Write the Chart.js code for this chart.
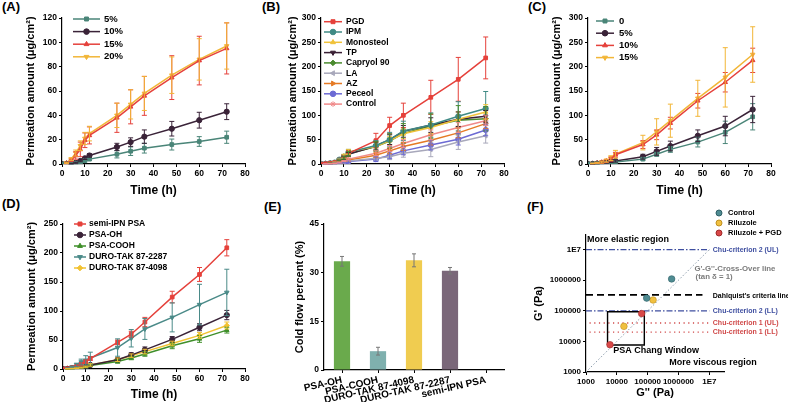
<!DOCTYPE html>
<html>
<head>
<meta charset="utf-8">
<style>
  body { margin: 0; background: #fff; width: 788px; height: 402px; position: relative; overflow: hidden; }
  canvas { position: absolute; }
  .tag { position: absolute; font: bold 13px "Liberation Sans", Arial, sans-serif; color: #000; }
</style>
</head>
<body>
<div class="tag" style="left:2px;top:-1px">(A)</div>
<div class="tag" style="left:262px;top:-1px">(B)</div>
<div class="tag" style="left:528px;top:-1px">(C)</div>
<div class="tag" style="left:2px;top:196px">(D)</div>
<div class="tag" style="left:264px;top:199px">(E)</div>
<div class="tag" style="left:527px;top:199px">(F)</div>

<canvas id="cA" width="262" height="200" style="left:0;top:0"></canvas>
<canvas id="cB" width="263" height="200" style="left:262px;top:0"></canvas>
<canvas id="cC" width="263" height="200" style="left:525px;top:0"></canvas>
<canvas id="cD" width="262" height="202" style="left:0;top:200px"></canvas>
<canvas id="cE" width="263" height="202" style="left:262px;top:200px"></canvas>
<canvas id="cF" width="263" height="202" style="left:525px;top:200px"></canvas>

<script src="https://cdn.jsdelivr.net/npm/chart.js"></script>

<script>
  // sampling times (h), shared by panels A-D
  const timeH = [0, 2, 4, 6, 8, 10, 12, 24, 30, 36, 48, 60, 72];

  // (A) drug loading
  const a5 = [0, 0, 0.2, 0.5, 1, 2.7, 4, 8, 10.5, 13, 16, 18.5, 22];
  const a5Err = [0, 0, 0.2, 0.3, 0.5, 0.8, 1.2, 3, 3.5, 4, 4.5, 4, 5];
  const a10 = [0, 0, 0.3, 1, 2.5, 4.7, 7, 14, 18, 22.5, 29, 36, 43];
  const a10Err = [0, 0, 0.2, 0.4, 0.6, 1, 1.5, 3, 3.5, 5.5, 6, 6.5, 6.5];
  const a15 = [0, 0.8, 3, 7, 12, 19.5, 23.5, 38, 47, 56, 71, 85, 95];
  const a15Err = [0, 0.5, 1, 3, 6, 6, 7, 12, 14, 16, 18, 20, 21];
  const a20 = [0, 1, 4, 9, 15, 21, 25, 40, 49, 58, 73, 86, 97];
  const a20Err = [0, 0.5, 1, 2.5, 4, 5, 6, 10, 12, 14, 15, 17, 19];

  // (B) enhancers
  const bPGD = [0, 0.5, 1.5, 3, 8, 15, 22, 48, 79, 100, 137, 174, 218];
  const bPGDErr = [0, 0.3, 0.5, 1, 2, 4, 6, 15, 17, 25, 35, 45, 43];
  const bIPM = [0, 0.5, 1.5, 3, 9, 15, 24, 38, 50, 68, 80, 98, 114];
  const bIPMErr = [0, 0.3, 0.5, 1, 2, 4, 6, 10, 15, 20, 25, 30, 35];
  const bMono = [0, 0.5, 1.5, 3, 8, 16, 25, 36, 48, 62, 75, 92, 107];
  const bMonoErr = [0, 0.3, 0.5, 1, 2, 4, 5, 8, 8, 10, 12, 15, 15];
  const bTP = [0, 0.4, 1, 2, 6, 12, 20, 37, 50, 67, 80, 92, 98];
  const bTPErr = [0, 0.3, 0.5, 1, 2, 3, 4, 8, 10, 12, 15, 15, 12];
  const bCapryol = [0, 0.4, 1, 2, 6, 13, 21, 36, 47, 63, 78, 90, 93];
  const bCapryolErr = [0, 0.3, 0.5, 1, 2, 3, 5, 10, 15, 20, 25, 30, 25];
  const bLA = [0, 0.2, 0.5, 1, 2, 4, 6, 12, 15, 22, 30, 45, 58];
  const bLAErr = [0, 0.1, 0.3, 0.5, 1, 1, 2, 4, 6, 8, 15, 15, 15];
  const bAZ = [0, 0.2, 0.6, 1.2, 3, 5, 8, 18, 27, 36, 49, 64, 83];
  const bAZErr = [0, 0.1, 0.3, 0.5, 1, 1, 2, 5, 6, 8, 10, 10, 10];
  const bPeceol = [0, 0.2, 0.5, 1, 2, 3, 5, 10, 18, 27, 39, 51, 70];
  const bPeceolErr = [0, 0.1, 0.3, 0.5, 1, 1, 2, 5, 7, 8, 10, 12, 12];
  const bControl = [0, 0.3, 0.7, 1.5, 3, 6, 10, 22, 32, 42, 60, 75, 89];
  const bControlErr = [0, 0.1, 0.3, 0.5, 1, 1, 2, 5, 6, 8, 10, 10, 10];

  // (C) enhancer content
  const c0 = [0, 0.2, 0.5, 1, 1.5, 2.5, 4, 10, 20, 30, 45, 65, 97];
  const c0Err = [0, 0.1, 0.2, 0.3, 0.5, 0.8, 1, 3, 4, 6, 10, 23, 27];
  const c5 = [0, 0.3, 0.8, 1.5, 2.5, 4, 6, 15, 26, 37, 58, 78, 112];
  const c5Err = [0, 0.2, 0.3, 0.5, 0.8, 1, 2, 5, 8, 10, 12, 20, 27];
  const c10 = [0, 1, 2, 3.5, 6, 10, 19, 40, 60, 84, 130, 168, 213];
  const c10Err = [0, 0.5, 1, 2, 3, 4, 5, 8, 10, 12, 15, 20, 25];
  const c15 = [0, 1.2, 2.5, 4, 7, 12, 20, 44, 66, 89, 135, 178, 225];
  const c15Err = [0, 0.5, 1, 2, 3, 5, 8, 15, 27, 34, 37, 61, 57];

  // (D) matrices
  const dSemi = [0, 0.5, 2, 4, 8, 12.5, 18, 46, 60, 81, 124, 163, 209];
  const dSemiErr = [0, 0.3, 0.5, 1, 2, 3, 3, 4, 5, 8, 10, 12, 14];
  const dOH = [0, 0.3, 0.8, 1.5, 2.5, 4, 7, 16, 24, 33, 51, 72, 93];
  const dOHErr = [0, 0.2, 0.3, 0.5, 0.8, 1, 2, 3, 4, 5, 5, 6, 8];
  const dCOOH = [0, 0.2, 0.5, 1, 2, 3, 6, 13, 19, 26, 40, 52, 67];
  const dCOOHErr = [0, 0.1, 0.2, 0.3, 0.5, 1, 1.5, 3, 3, 4, 5, 6, 5];
  const d2287 = [0, 1.5, 3.5, 7, 12, 15, 19, 37, 53, 69, 89, 111, 132];
  const d2287Err = [0, 0.5, 1, 3, 5, 8, 10, 15, 15, 18, 25, 35, 40];
  const d4098 = [0, 0.3, 0.8, 1.5, 2.5, 4, 7, 16, 23, 30, 44, 58, 75];
  const d4098Err = [0, 0.2, 0.3, 0.5, 0.8, 1, 2, 3, 3, 4, 4, 5, 6];

  // (E) cold flow
  const eLabels = ['PSA-OH', 'PSA-COOH', 'DURO-TAK 87-4098', 'DURO-TAK 87-2287', 'semi-IPN PSA'];
  const eCold = [33.5, 5.8, 33.8, 30.6, 0];
  const eColdErr = [1.5, 1.2, 2, 1, 0];

  // (F) viscoelastic window: G'' (x) and G' (y), Pa
  const fCtrlGpp = [6.0e5, 9.3e4];
  const fCtrlGp = [1.1e6, 2.6e5];
  const fRilGpp = [1.5e5, 1.7e4];
  const fRilGp = [2.25e5, 3.1e4];
  const fPgdGpp = [6.4e4, 6.0e3];
  const fPgdGp = [8.1e4, 7.8e3];
  const fCriteria = ['Chu-criterion 2 (UL)', "Dahlquist's criteria line", 'Chu-criterion 2 (LL)', 'Chu-criterion 1 (UL)', 'Chu-criterion 1 (LL)'];
  const fCriteriaGp = [1e7, 3.3e5, 1e5, 4e4, 2e4];
  const fChangGpp = [5000, 78000];
  const fChangGp = [7600, 93000];
  const fTickVals = [1e3, 1e4, 1e5, 1e6, 1e7];
  const fTickText = ['1000', '10000', '100000', '1000000', '1E7'];
</script>

<script>
  const FAM = '"Liberation Sans", Arial, sans-serif';
  Chart.defaults.font.family = FAM;
  Chart.defaults.color = '#000';

  const tickFont = { size: 8.5, weight: 'bold' };

  const errorBars = {
    id: 'errorBars',
    afterDatasetsDraw(chart) {
      const ctx = chart.ctx;
      chart.data.datasets.forEach((ds, i) => {
        if (!ds.errors) return;
        const meta = chart.getDatasetMeta(i);
        const ys = chart.scales[meta.yAxisID];
        ctx.save();
        ctx.strokeStyle = ds.errorColor || ds.borderColor;
        ctx.lineWidth = 1;
        meta.data.forEach((el, j) => {
          const e = ds.errors[j];
          if (!e) return;
          const d = ds.data[j];
          const v = typeof d === 'object' ? d.y : d;
          const top = ys.getPixelForValue(v + e);
          const bot = ys.getPixelForValue(Math.max(v - e, 0));
          const cap = ds.capWidth || 2.5;
          ctx.beginPath();
          ctx.moveTo(el.x, top); ctx.lineTo(el.x, bot);
          ctx.moveTo(el.x - cap, top); ctx.lineTo(el.x + cap, top);
          ctx.moveTo(el.x - cap, bot); ctx.lineTo(el.x + cap, bot);
          ctx.stroke();
        });
        ctx.restore();
      });
    }
  };

  const miniLegend = {
    id: 'miniLegend',
    afterDraw(chart, args, opts) {
      if (opts.x === undefined) return;
      const ctx = chart.ctx;
      ctx.save();
      ctx.font = 'bold ' + opts.size + 'px ' + FAM;
      ctx.textBaseline = 'middle';
      let row = 0;
      chart.data.datasets.forEach(ds => {
        if (ds.noLegend) return;
        const y = opts.y + row * opts.row;
        const len = opts.line || 0;
        ctx.strokeStyle = ds.borderColor;
        ctx.fillStyle = ds.backgroundColor;
        if (len) {
          ctx.lineWidth = 1.5;
          ctx.beginPath(); ctx.moveTo(opts.x, y); ctx.lineTo(opts.x + len, y); ctx.stroke();
        }
        ctx.lineWidth = 1;
        Chart.helpers.drawPoint(ctx, {
          pointStyle: ds.pointStyle, radius: opts.r || 2.8,
          rotation: ds.pointRotation || 0, borderWidth: 1
        }, opts.x + len / 2, y);
        ctx.fillStyle = '#000';
        ctx.fillText(ds.label, opts.x + len + opts.gap, y);
        row++;
      });
      ctx.restore();
    }
  };

  function series(label, vals, errs, color, style, rot) {
    return {
      label: label,
      data: timeH.map((t, i) => ({ x: t, y: vals[i] })),
      errors: errs,
      borderColor: color,
      backgroundColor: color,
      pointStyle: style,
      pointRotation: rot || 0,
      pointRadius: 2.6,
      pointBorderWidth: 1,
      borderWidth: 1.5
    };
  }

  function permChart(id, datasets, o) {
    return new Chart(document.getElementById(id), {
      type: 'line',
      data: { datasets: datasets },
      plugins: [errorBars, miniLegend],
      options: {
        responsive: false,
        animation: false,
        devicePixelRatio: 1,
        layout: { padding: { left: o.padL, top: o.padT, right: o.padR, bottom: 0 } },
        plugins: { legend: { display: false }, tooltip: { enabled: false }, miniLegend: o.legend },
        scales: {
          x: {
            type: 'linear', min: 0, max: 80,
            ticks: { stepSize: 10, font: tickFont, color: '#000', padding: 2 },
            grid: { drawOnChartArea: false, color: '#000', tickLength: 3, lineWidth: 1 },
            border: { color: '#000', width: 1.2 },
            title: { display: true, text: 'Time (h)', font: { size: 12, weight: 'bold' }, color: '#000', padding: { top: 0, bottom: o.xtPad } },
            afterFit: s => { s.height = o.xh; }
          },
          y: {
            min: 0, max: o.ymax,
            ticks: { stepSize: o.ystep, font: tickFont, color: '#000', padding: 2 },
            grid: { drawOnChartArea: false, color: '#000', tickLength: 3, lineWidth: 1 },
            border: { color: '#000', width: 1.2 },
            title: { display: true, text: 'Permeation amount (μg/cm²)', font: { size: 11, weight: 'bold' }, color: '#000', padding: { top: 4, bottom: 0 } },
            afterFit: s => { s.width = o.yw; }
          }
        }
      }
    });
  }

  // (A)
  permChart('cA', [
    series('5%', a5, a5Err, '#4a8578', 'rect'),
    series('10%', a10, a10Err, '#3a2338', 'circle'),
    series('15%', a15, a15Err, '#e5413b', 'triangle'),
    series('20%', a20, a20Err, '#f2b637', 'triangle', 180)
  ], { padL: 20, yw: 42, padT: 18, padR: 17, xh: 36, xtPad: 2, ymax: 120, ystep: 20,
       legend: { x: 73, y: 19, row: 12.6, line: 27, gap: 4, size: 9.5 } });

  // (B)
  permChart('cB', [
    series('PGD', bPGD, bPGDErr, '#e5403a', 'rect'),
    series('IPM', bIPM, bIPMErr, '#3f8a85', 'circle'),
    series('Monosteol', bMono, bMonoErr, '#f0c23a', 'triangle'),
    series('TP', bTP, bTPErr, '#3a2035', 'triangle', 180),
    series('Capryol 90', bCapryol, bCapryolErr, '#4b8b2f', 'rectRot'),
    series('LA', bLA, bLAErr, '#a8a8bb', 'triangle', 270),
    series('AZ', bAZ, bAZErr, '#e57a25', 'triangle', 90),
    series('Peceol', bPeceol, bPeceolErr, '#6c6ad4', 'circle'),
    series('Control', bControl, bControlErr, '#f08a8a', 'star')
  ], { padL: 20, yw: 39, padT: 18, padR: 21, xh: 36, xtPad: 2, ymax: 300, ystep: 50,
       legend: { x: 62, y: 21.7, row: 10.3, line: 18, gap: 4, size: 8.5 } });

  // (C)
  permChart('cC', [
    series('0', c0, c0Err, '#4a8578', 'rect'),
    series('5%', c5, c5Err, '#3a2338', 'circle'),
    series('10%', c10, c10Err, '#e5413b', 'triangle'),
    series('15%', c15, c15Err, '#f2b637', 'triangle', 180)
  ], { padL: 21, yw: 42, padT: 18, padR: 17, xh: 36, xtPad: 2, ymax: 300, ystep: 50,
       legend: { x: 71, y: 21, row: 12.2, line: 18, gap: 5, size: 9.5 } });

  // (D)
  permChart('cD', [
    series('semi-IPN PSA', dSemi, dSemiErr, '#e5413b', 'rect'),
    series('PSA-OH', dOH, dOHErr, '#3a2338', 'circle'),
    series('PSA-COOH', dCOOH, dCOOHErr, '#3f8f2a', 'triangle'),
    series('DURO-TAK 87-2287', d2287, d2287Err, '#4a8a88', 'triangle', 180),
    series('DURO-TAK 87-4098', d4098, d4098Err, '#f2c232', 'rectRot')
  ], { padL: 21, yw: 42, padT: 24, padR: 17, xh: 33, xtPad: 0, ymax: 250, ystep: 50,
       legend: { x: 74, y: 24, row: 11, line: 12, gap: 3, size: 8.5 } });

  // (E)
  new Chart(document.getElementById('cE'), {
    type: 'bar',
    data: {
      labels: eLabels,
      datasets: [{
        label: 'Cold flow', data: eCold, errors: eColdErr, errorColor: '#777', capWidth: 2,
        backgroundColor: ['#6aaa4c', '#7fb0ae', '#f0cc50', '#7a6779', '#999'],
        borderColor: '#777', borderWidth: 0, barPercentage: 0.45, categoryPercentage: 1
      }]
    },
    plugins: [errorBars],
    options: {
      responsive: false, animation: false, devicePixelRatio: 1,
      layout: { padding: { left: 27, top: 24, right: 21, bottom: 0 } },
      plugins: { legend: { display: false }, tooltip: { enabled: false } },
      scales: {
        x: {
          ticks: { font: { size: 10, weight: 'bold' }, color: '#000', minRotation: 13, maxRotation: 13, padding: 1, autoSkip: false },
          grid: { drawOnChartArea: false, offset: false, color: '#000', tickLength: 3 },
          border: { color: '#000', width: 1.2 },
          afterFit: s => { s.height = 32; }
        },
        y: {
          min: 0, max: 45,
          ticks: { stepSize: 15, font: tickFont, color: '#000', padding: 2 },
          grid: { drawOnChartArea: false, color: '#000', tickLength: 3 },
          border: { color: '#000', width: 1.2 },
          title: { display: true, text: 'Cold flow percent (%)', font: { size: 11, weight: 'bold' }, color: '#000', padding: { top: 4, bottom: 0 } },
          afterFit: s => { s.width = 35; }
        }
      }
    }
  });

  // (F)
  const toPts = (xs, ys) => xs.map((x, i) => ({ x: x, y: ys[i] }));
  const fDatasets = [
    { label: 'Control', data: toPts(fCtrlGpp, fCtrlGp), backgroundColor: '#4f8c92', borderColor: '#2f5f66', pointRadius: 3.3, pointBorderWidth: 0.6, pointStyle: 'circle' },
    { label: 'Riluzole', data: toPts(fRilGpp, fRilGp), backgroundColor: '#f0c040', borderColor: '#c09020', pointRadius: 3.3, pointBorderWidth: 0.6, pointStyle: 'circle' },
    { label: 'Riluzole + PGD', data: toPts(fPgdGpp, fPgdGp), backgroundColor: '#d84848', borderColor: '#a02828', pointRadius: 3.3, pointBorderWidth: 0.6, pointStyle: 'circle' },
    { label: 'cross', noLegend: true, showLine: true, pointRadius: 0, data: toPts([1e3, 1e7], [1e3, 1e7]), borderColor: '#8a9aaa', borderWidth: 1, borderDash: [1.5, 2] },
    { label: 'chang', noLegend: true, showLine: true, pointRadius: 0, borderColor: '#000', borderWidth: 1.4,
      data: toPts([fChangGpp[0], fChangGpp[1], fChangGpp[1], fChangGpp[0], fChangGpp[0]], [fChangGp[0], fChangGp[0], fChangGp[1], fChangGp[1], fChangGp[0]]) }
  ];
  const fStyles = [
    { color: '#3f4fa0', dash: [6, 2, 1.5, 2], width: 1.2, end: 1e7 },
    { color: '#000', dash: [7, 4], width: 1.8, end: 6e6 },
    { color: '#3f4fa0', dash: [6, 2, 1.5, 2], width: 1.2, end: 1e7 },
    { color: '#d04848', dash: [1.2, 3.5], width: 1.3, end: 1e7 },
    { color: '#d04848', dash: [1.2, 3.5], width: 1.3, end: 1e7 }
  ];
  fCriteriaGp.forEach((g, i) => {
    fDatasets.push({ label: fCriteria[i], noLegend: true, showLine: true, pointRadius: 0,
      data: toPts([i >= 3 ? 1300 : 1000, fStyles[i].end], [g, g]),
      borderColor: fStyles[i].color, borderWidth: fStyles[i].width, borderDash: fStyles[i].dash });
  });

  const fNotes = {
    id: 'fNotes',
    afterDraw(chart) {
      const ctx = chart.ctx, xs = chart.scales.x, ys = chart.scales.y;
      const put = (txt, x, y, color, size) => {
        ctx.font = 'bold ' + size + 'px ' + FAM;
        ctx.fillStyle = color;
        ctx.fillText(txt, xs.getPixelForValue(x), ys.getPixelForValue(y));
      };
      ctx.save();
      ctx.textBaseline = 'middle';
      ctx.textAlign = 'left';
      fCriteria.forEach((t, i) => put(t, 1.3e7, fCriteriaGp[i] * (i === 1 ? 0.9 : 1), fStyles[i].color, 7));
      put('More elastic region', 1080, 2.1e7, '#000', 9);
      put('More viscous region', 5e5, 2000, '#000', 9);
      put('PSA Chang Window', 7600, 4900, '#000', 9);
      put("G'-G''-Cross-Over line", 3.3e6, 2.3e6, '#7a7a7a', 7.8);
      put('(tan δ = 1)', 3.6e6, 1.3e6, '#7a7a7a', 7.8);
      ctx.restore();
    }
  };

  new Chart(document.getElementById('cF'), {
    type: 'scatter',
    data: { datasets: fDatasets },
    plugins: [fNotes, miniLegend],
    options: {
      responsive: false, animation: false, devicePixelRatio: 1,
      layout: { padding: { left: 3, top: 35, right: 64, bottom: 0 } },
      plugins: { legend: { display: false }, tooltip: { enabled: false },
                 miniLegend: { x: 194, y: 13, row: 10, line: 0, gap: 9, size: 7.5, r: 3 } },
      scales: {
        x: {
          type: 'logarithmic', min: 1e3, max: 3e7,
          afterBuildTicks: s => { s.ticks = fTickVals.map(v => ({ value: v })); },
          ticks: { font: { size: 8, weight: 'bold' }, color: '#000', padding: 2, autoSkip: false, maxRotation: 0,
                   callback: (v, i) => fTickText[i] },
          grid: { drawOnChartArea: false, color: '#000', tickLength: 3 },
          border: { color: '#000', width: 1.2 },
          title: { display: true, text: "G'' (Pa)", font: { size: 11, weight: 'bold' }, color: '#000', padding: { top: 0, bottom: 2 } },
          afterFit: s => { s.height = 30; }
        },
        y: {
          type: 'logarithmic', min: 1e3, max: 3e7,
          afterBuildTicks: s => { s.ticks = fTickVals.map(v => ({ value: v })); },
          ticks: { font: { size: 8, weight: 'bold' }, color: '#000', padding: 2, autoSkip: false,
                   callback: (v, i) => fTickText[i] },
          grid: { drawOnChartArea: false, color: '#000', tickLength: 3 },
          border: { color: '#000', width: 1.2 },
          title: { display: true, text: "G' (Pa)", font: { size: 11, weight: 'bold' }, color: '#000', padding: { top: 4, bottom: 0 } },
          afterFit: s => { s.width = 58; }
        }
      }
    }
  });
</script>
</body>
</html>
